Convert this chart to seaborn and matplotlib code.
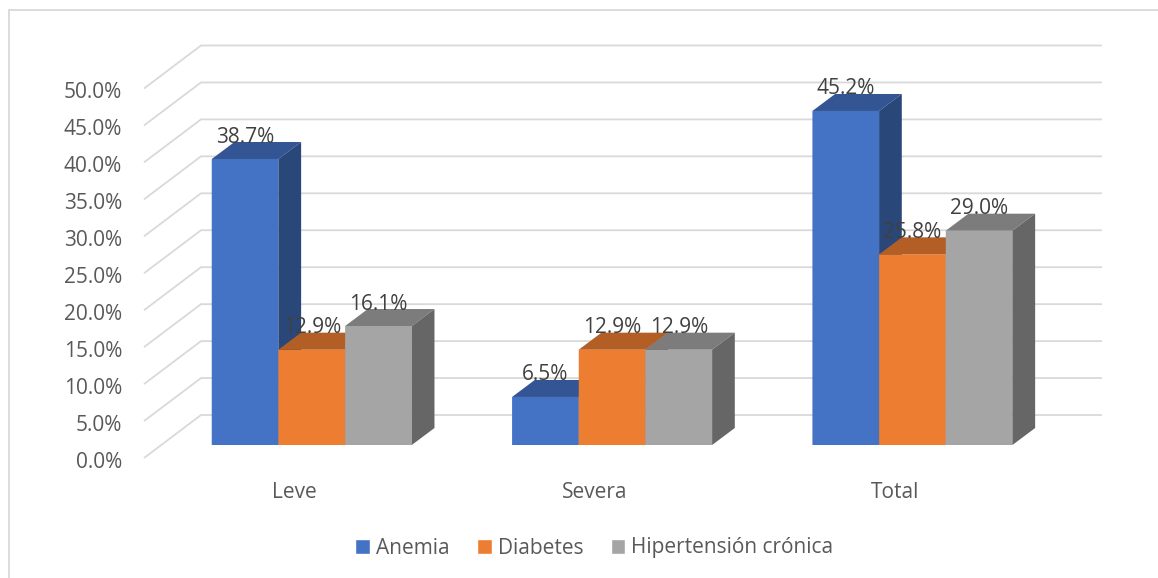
# -*- coding: utf-8 -*-
import seaborn as sns
from matplotlib import pyplot as plt
from matplotlib.lines import Line2D
from matplotlib.patches import Polygon, Rectangle
from matplotlib.transforms import ScaledTranslation
import pandas as pd

categories = ['Leve', 'Severa', 'Total']
anemia = [38.7, 6.5, 45.2]
diabetes = [12.9, 12.9, 25.8]
hipertension = [16.1, 12.9, 29.0]
series_names = ['Anemia', 'Diabetes', 'Hipertensión crónica']
tick_values = [0, 5, 10, 15, 20, 25, 30, 35, 40, 45, 50]

colors = ['#4472C4', '#ED7D31', '#A5A5A5']
top_colors = ['#335594', '#B25E25', '#7C7C7C']
side_colors = ['#2A4779', '#934D1E', '#666666']
GRID = '#D9D9D9'

W, H = 1158, 578
# front plane of the box, in pixels
LEFT, RIGHT, BASE, TOP = 144, 1045, 458, 88.5

sns.set_theme(style='white')
plt.rcParams['font.family'] = ['Open Sans', 'DejaVu Sans']

df = pd.DataFrame({'cat': categories, 'Anemia': anemia, 'Diabetes': diabetes,
                   'Hipertensión crónica': hipertension})
df_melt = df.melt(['cat'], var_name='serie', value_name='valor')

fig = plt.figure(figsize=(W / 100, H / 100), dpi=100, facecolor='white')
ax = fig.add_axes([LEFT / W, 1 - BASE / H, (RIGHT - LEFT) / W, (BASE - TOP) / H])
ax.patch.set_alpha(0)

sns.barplot(data=df_melt, x='cat', y='valor', hue='serie', hue_order=series_names,
            palette=colors, width=0.666, gap=0, saturation=1, linewidth=0, legend=False, ax=ax)
ax.set_xlim(-0.5, 2.5)
ax.set_ylim(0, 50)

px_x = 3.0 / (RIGHT - LEFT)   # data units per pixel
px_y = 50.0 / (BASE - TOP)

# wall gridlines
back_dx, back_dy = 57 * px_x, 43 * px_y
for v in tick_values:
    ax.plot([-0.5, -0.5 + back_dx, 2.5 + back_dx], [v, v + back_dy, v + back_dy],
            color=GRID, lw=1.3, zorder=1, clip_on=False, solid_capstyle='butt')

# move bars onto the floor and add the top and side faces
shift_x, shift_y = 17.6 * px_x, 13 * px_y
dx, dy = 22.7 * px_x, 17 * px_y
for i, cont in enumerate(ax.containers):
    for bar in cont:
        bar.set_x(bar.get_x() + shift_x)
        bar.set_y(shift_y)
        bar.set_zorder(3 + i)
        bar.set_clip_on(False)
        bar.set_snap(False)
        x0, x1 = bar.get_x(), bar.get_x() + bar.get_width()
        y0, y1 = shift_y, shift_y + bar.get_height()
        ax.add_patch(Polygon([(x0, y1), (x1, y1), (x1 + dx, y1 + dy), (x0 + dx, y1 + dy)],
                             facecolor=top_colors[i], edgecolor='none', zorder=3 + i, clip_on=False))
        ax.add_patch(Polygon([(x1, y0), (x1 + dx, y0 + dy), (x1 + dx, y1 + dy), (x1, y1)],
                             facecolor=side_colors[i], edgecolor='none', zorder=3 + i, clip_on=False))
        ax.text((x0 + x1) / 2, y1 + 22 * px_y, f'{bar.get_height():.1f}%', ha='center', va='center',
                fontsize=15, color='#404040', zorder=10, clip_on=False)

ax.set_xticks(range(3))
ax.set_xticklabels(categories)
ax.set_yticks(tick_values)
ax.set_yticklabels([f'{v:.1f}%' for v in tick_values])
ax.tick_params(axis='x', length=0, pad=17, labelsize=15, labelcolor='#595959')
ax.tick_params(axis='y', length=0, pad=15.8, labelsize=15, labelcolor='#595959')
ax.set_xlabel('')
ax.set_ylabel('')
sns.despine(ax=ax, left=True, bottom=True)

# nudge y labels down a bit
for label in ax.get_yticklabels():
    label.set_transform(label.get_transform() + ScaledTranslation(0, -1.5 / 100, fig.dpi_scale_trans))

# legend
handles = [Rectangle((0, 0), 1, 1, facecolor=c) for c in colors]
fig.legend(handles, series_names, loc='center', bbox_to_anchor=(594.5 / W, 1 - 548 / H), ncol=3,
           frameon=False, fontsize=15, labelcolor='#595959', handlelength=0.7, handleheight=0.7,
           handletextpad=0.3, columnspacing=1.3, borderpad=0)

# chart frame: only left and top edges are inside the picture
fig.add_artist(Line2D([9 / W, 9 / W, 1], [0, 1 - 10 / H, 1 - 10 / H], transform=fig.transFigure,
                      color=GRID, lw=1.3, solid_joinstyle='miter'))

plt.savefig('out.png', dpi=100)
